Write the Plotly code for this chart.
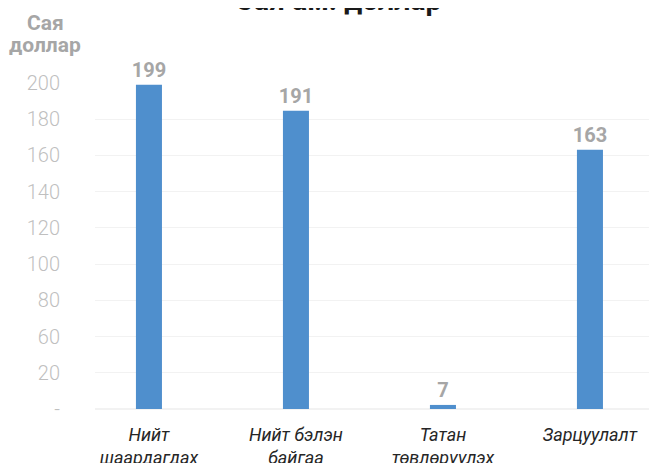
import plotly.graph_objects as go

categories = ["Нийт<br>шаардагдах", "Нийт бэлэн<br>байгаа", "Татан<br>төвлөрүүлэх", "Зарцуулалт"]
bar_heights = [199, 183, 2.5, 159]
bar_labels = ["199", "191", "7", "163"]
y_tick_labels = ["-", "20", "60", "80", "100", "120", "140", "160", "180", "200"]
y_tick_vals = [i * 200 / 9 for i in range(len(y_tick_labels))]

W, H = 657, 463
ML, MT, MB = 87, 74.7, 61.7
PH = H - MT - MB
PW = W - ML


def px(x):
    return (x - ML) / PW


def py(y):
    return 1 - (y - MT) / PH


fig = go.Figure()
fig.add_trace(go.Bar(
    x=list(range(len(categories))),
    y=bar_heights,
    width=0.177,
    marker=dict(color="#4F8FCD", line=dict(width=0)),
    text=bar_labels,
    textposition="outside",
    constraintext="none",
    textfont=dict(family="Roboto", size=20, color="#A6A6A6", weight="bold"),
    cliponaxis=False,
    hoverinfo="skip",
))

fig.update_layout(
    width=W, height=H,
    margin=dict(l=ML, r=0, t=MT, b=MB, autoexpand=False),
    plot_bgcolor="white", paper_bgcolor="white",
    showlegend=False,
    font=dict(family="Roboto"),
    xaxis=dict(
        tickmode="array",
        tickvals=list(range(len(categories))),
        ticktext=categories,
        range=[-0.367, -0.367 + PW / 147],
        showgrid=False, zeroline=False, showline=False,
        tickfont=dict(family="Roboto", size=18, color="#262626", style="italic"),
        ticks="", ticklabelstandoff=13, automargin=False,
    ),
    yaxis=dict(
        range=[0, 200],
        tickmode="array",
        tickvals=y_tick_vals,
        ticktext=y_tick_labels,
        showgrid=True, gridcolor="#F2F2F2", gridwidth=1,
        zeroline=True, zerolinecolor="#F2F2F2",
        showline=False,
        tickfont=dict(family="Roboto", size=20, color="#BFBFBF", weight=300),
        ticks="", ticklabelstandoff=34, automargin=False,
    ),
    annotations=[
        dict(text="<b>Сая ам. доллар</b>", xref="paper", yref="paper",
             x=px(330), y=py(1),
             xanchor="center", yanchor="bottom", yshift=-10, showarrow=False,
             font=dict(family="Roboto", size=28.5, color="#1A1A1A")),
        dict(text="<b>Сая</b>", xref="paper", yref="paper",
             x=px(37), y=py(15),
             xanchor="center", yanchor="middle", showarrow=False,
             font=dict(family="Roboto", size=21, color="#A6A6A6")),
        dict(text="<b>доллар</b>", xref="paper", yref="paper",
             x=px(37), y=py(37),
             xanchor="center", yanchor="middle", showarrow=False,
             font=dict(family="Roboto", size=21, color="#A6A6A6")),
    ],
)

fig.write_html("out.html")
